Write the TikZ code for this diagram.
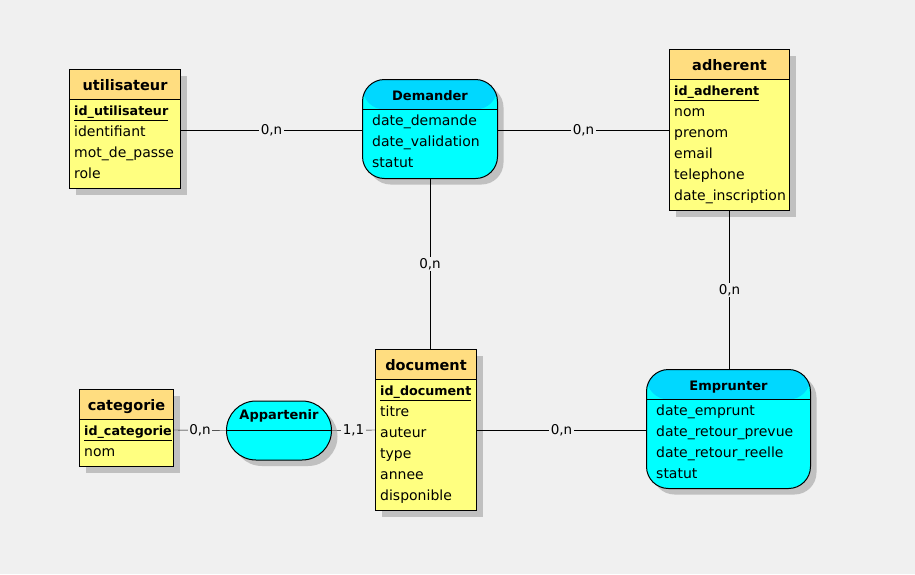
\documentclass[tikz,border=0pt]{standalone}
\usepackage{fontspec}
\setmainfont{DejaVu Sans}
\usetikzlibrary{shadows, calc}

\definecolor{fond}{HTML}{F0F0F0}
\definecolor{jaune}{HTML}{FFFF80}
\definecolor{jauneTete}{HTML}{FFDD80}
\definecolor{cyanCorps}{HTML}{00FFFF}
\definecolor{cyanTete}{HTML}{00D8FF}
\definecolor{ombre}{HTML}{C0C0C0}

\tikzset{
  boite/.style={draw, line width=1pt, inner sep=0pt, anchor=north west,
    drop shadow={shadow xshift=6pt, shadow yshift=-6pt, fill=ombre, opacity=1}},
  entite/.style 2 args={boite, fill=jaune, minimum width=#1, minimum height=#2,
    path picture={
      \fill[jauneTete] (path picture bounding box.north west)
        rectangle ([yshift=-30pt]path picture bounding box.north east);
      \draw[line width=1pt] ([yshift=-30pt]path picture bounding box.north west)
        -- ([yshift=-30pt]path picture bounding box.north east);}},
  assoc/.style 2 args={boite, fill=cyanCorps, rounded corners=22pt,
    minimum width=#1, minimum height=#2,
    path picture={
      \fill[cyanTete] (path picture bounding box.north west)
        rectangle ([yshift=-30pt]path picture bounding box.north east);
      \draw[line width=1pt] ([yshift=-30pt]path picture bounding box.north west)
        -- ([yshift=-30pt]path picture bounding box.north east);}},
  titreE/.style={anchor=base, inner sep=0pt, font=\fontsize{14.5}{17}\selectfont\bfseries},
  titreA/.style={anchor=base, inner sep=0pt, font=\fontsize{13}{16}\selectfont\bfseries},
  attr/.style={anchor=base west, inner sep=0pt, font=\fontsize{14}{16}\selectfont},
  cle/.style={attr, font=\fontsize{12.7}{16}\selectfont\bfseries},
  card/.style={fill=fond, inner sep=1.5pt, font=\fontsize{13.5}{16}\selectfont}
}

\begin{document}
\begin{tikzpicture}[x=1pt, y=-1pt]
  \fill[fond] (0,0) rectangle (915,574);
  \useasboundingbox (0,0) rectangle (915,574);

  % entites
  \node[entite={111pt}{119pt}] (utilisateur) at (69,69) {};
  \node[titreE] (utilisateur-t) at ([yshift=-21pt]utilisateur.north) {utilisateur};
  \node[cle] (utilisateur-1) at ([xshift=5pt, yshift=-46.5pt]utilisateur.north west) {\underline{id\_utilisateur}};
  \foreach \a [count=\i from 2] in {identifiant, mot\_de\_passe, role}
    \node[attr] (utilisateur-\i) at ([xshift=5pt, yshift={-25.5pt-21pt*\i}]utilisateur.north west) {\a};

  \node[entite={120pt}{161pt}] (adherent) at (669,49) {};
  \node[titreE] (adherent-t) at ([yshift=-21pt]adherent.north) {adherent};
  \node[cle] (adherent-1) at ([xshift=5pt, yshift=-46.5pt]adherent.north west) {\underline{id\_adherent}};
  \foreach \a [count=\i from 2] in {nom, prenom, email, telephone, date\_inscription}
    \node[attr] (adherent-\i) at ([xshift=5pt, yshift={-25.5pt-21pt*\i}]adherent.north west) {\a};

  \node[entite={94pt}{77pt}] (categorie) at (79,389) {};
  \node[titreE] (categorie-t) at ([yshift=-21pt]categorie.north) {categorie};
  \node[cle] (categorie-1) at ([xshift=5pt, yshift=-46.5pt]categorie.north west) {\underline{id\_categorie}};
  \node[attr] (categorie-2) at ([xshift=5pt, yshift=-67.5pt]categorie.north west) {nom};

  \node[entite={101pt}{161pt}] (document) at (375,349) {};
  \node[titreE] (document-t) at ([yshift=-21pt]document.north) {document};
  \node[cle] (document-1) at ([xshift=5pt, yshift=-46.5pt]document.north west) {\underline{id\_document}};
  \foreach \a [count=\i from 2] in {titre, auteur, type, annee, disponible}
    \node[attr] (document-\i) at ([xshift=5pt, yshift={-25.5pt-21pt*\i}]document.north west) {\a};

  % associations
  \node[assoc={135pt}{99pt}] (Demander) at (362,79) {};
  \node[titreA] (Demander-t) at ([yshift=-21pt]Demander.north) {Demander};
  \foreach \a [count=\i] in {date\_demande, date\_validation, statut}
    \node[attr] (Demander-\i) at ([xshift=10pt, yshift={-25.5pt-21pt*\i}]Demander.north west) {\a};

  \node[assoc={164pt}{119pt}] (Emprunter) at (646,369) {};
  \node[titreA] (Emprunter-t) at ([yshift=-21pt]Emprunter.north) {Emprunter};
  \foreach \a [count=\i] in {date\_emprunt, date\_retour\_prevue, date\_retour\_reelle, statut}
    \node[attr] (Emprunter-\i) at ([xshift=10pt, yshift={-25.5pt-21pt*\i}]Emprunter.north west) {\a};

  \node[boite, fill=cyanCorps, rounded corners=29.5pt, minimum width=105pt, minimum height=59pt]
    (Appartenir) at (226,400.5) {};
  \node[titreA] (Appartenir-t) at ([yshift=-19pt]Appartenir.north) {Appartenir};

  % liens
  \coordinate (ligneHaut) at (0,130);
  \coordinate (ligneBas) at (0,430);
  \draw (utilisateur.east |- ligneHaut) -- (Demander.west |- ligneHaut) node[card, midway] {0,n};
  \draw (Demander.east |- ligneHaut) -- (adherent.west |- ligneHaut) node[card, midway] {0,n};
  \draw (Demander.south) -- (Demander.south |- document.north) node[card, midway] {0,n};
  \draw (adherent.south) -- (adherent.south |- Emprunter.north) node[card, midway] {0,n};
  \draw (categorie.east |- ligneBas) -- (Appartenir.west) node[card, midway] {0,n};
  \draw (Appartenir.west) -- (Appartenir.east);
  \draw (Appartenir.east) -- (document.west |- ligneBas) node[card, midway] {1,1};
  \draw (document.east |- ligneBas) -- (Emprunter.west |- ligneBas) node[card, midway] {0,n};
\end{tikzpicture}
\end{document}
